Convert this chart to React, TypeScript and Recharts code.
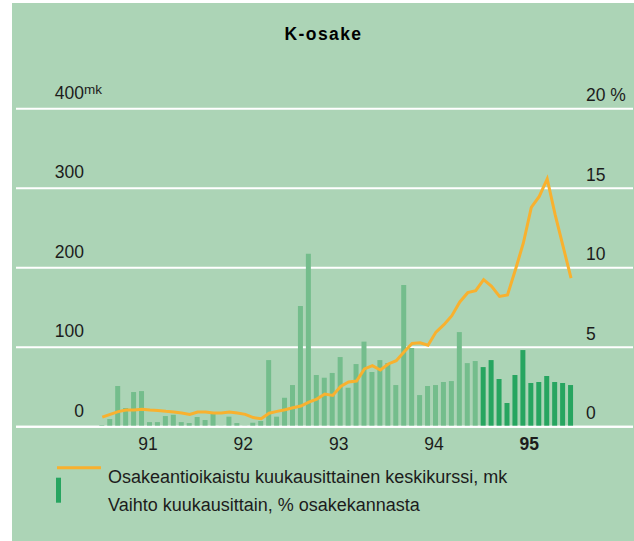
import React from 'react';
import { ComposedChart, Bar, Line, XAxis, YAxis, CartesianGrid, ReferenceLine, Cell } from 'recharts';

// Monthly index (0 = Jan 1991 ... 59 = Dec 1995)
const PRICE_MK: number[] = [
  12, 15.5, 19, 21, 21, 22, 21, 20.5, 19.3, 18.5, 17.2, 15.5,
  18.5, 18.5, 17.2, 17.2, 18.5, 17.2, 15.5, 11.5, 10, 17,
  19.3, 21.4, 23.9, 26, 31, 34.8, 41.1, 39.4, 50.7, 56.2, 57.5, 72.6, 76.7, 71.3,
  78.9, 83, 94.4, 104.8, 105.5, 102.5, 119, 128.3, 139.6, 156.9, 168.6, 171.1,
  184.9, 176.5, 163.9, 165.7, 197.5, 231.1, 275.9, 289.7, 311.6, 266.7, 226.8, 187,
];

const TURNOVER_PCT: number[] = [
  0.1, 0.48, 2.56, 1.17, 2.18, 2.24, 0.29, 0.29, 0.67, 0.75, 0.29, 0.23,
  0.61, 0.42, 0.82, 0.06, 0.63, 0.23, 0.06, 0.25, 0.36, 4.19, 0.63, 1.82,
  2.62, 7.59, 10.88, 3.25, 3.08, 3.38, 4.38, 2.45, 3.94, 5.35, 3.44, 4.19,
  4.0, 2.62, 8.91, 4.95, 1.99, 2.56, 2.62, 2.81, 2.87, 5.95, 4.0, 4.13,
  3.75, 4.19, 3.0, 1.49, 3.25, 4.82, 2.75, 2.81, 3.19, 2.81, 2.75, 2.62,
];

const YEAR_LABELS = ['91', '92', '93', '94', '95'];
const YEAR_TICKS = [5.5, 17.5, 29.5, 41.5, 53.5];
const CURRENT_YEAR_START = 48;
const MK_TICKS = [0, 100, 200, 300, 400];
const PCT_TICKS = [0, 5, 10, 15, 20];

const TITLE = 'K-osake';
const LEGEND_LINE = 'Osakeantioikaistu kuukausittainen keskikurssi, mk';
const LEGEND_BAR = 'Vaihto kuukausittain, % osakekannasta';

const data = PRICE_MK.map((p, i) => ({ i, price: p, turnover: TURNOVER_PCT[i] }));

const BG = '#acd4b6';
const LIGHT = '#74bd8c';
const DARK = '#27a560';
const ORANGE = '#f8b12f';
const TEXT = '#1c1c1c';
const FONT = '"Liberation Sans", Arial, Helvetica, sans-serif';

const W = 634;
const H = 541;

const LeftTick = (props: any) => {
  const { y, payload } = props;
  const v = payload.value;
  return (
    <g>
      <text x={84} y={y - 10} textAnchor="end" fontSize={17.5} fill={TEXT} fontFamily={FONT}>
        {String(v)}
      </text>
      {v === 400 && (
        <text x={84} y={y - 15} textAnchor="start" fontSize={13.5} fill={TEXT} fontFamily={FONT}>
          mk
        </text>
      )}
    </g>
  );
};

const RightTick = (props: any) => {
  const { y, payload } = props;
  const v = payload.value;
  return (
    <text x={586} y={y - 7.5} textAnchor="start" fontSize={17.5} fill={TEXT} fontFamily={FONT}>
      {v === 20 ? '20 %' : String(v)}
    </text>
  );
};

const XTick = (props: any) => {
  const { x, y, payload, index } = props;
  const idx = YEAR_TICKS.indexOf(payload.value);
  const label = YEAR_LABELS[idx >= 0 ? idx : index];
  const bold = idx === YEAR_LABELS.length - 1;
  return (
    <text
      x={x + 2}
      y={y + 23}
      textAnchor="middle"
      fontSize={17.5}
      fontWeight={bold ? 700 : 400}
      fill={TEXT}
      fontFamily={FONT}
    >
      {label}
    </text>
  );
};

export default function App() {
  return (
    <div style={{ position: 'absolute', left: 0, top: 0, width: W, height: H, background: '#ffffff', overflow: 'hidden' }}>
      <div style={{ position: 'absolute', left: 12, top: 3, width: W - 12, height: H - 3, background: BG }} />
      <div style={{ position: 'absolute', left: 0, top: 0 }}>
        <ComposedChart
          width={W}
          height={H}
          data={data}
          margin={{ top: 108.7, right: 0, bottom: 84.3, left: 15 }}
        >
          <CartesianGrid
            yAxisId="mk"
            horizontal={true}
            vertical={false}
            stroke="#ffffff"
            strokeWidth={2}
          />
          <XAxis
            dataKey="i"
            type="number"
            domain={[-10.86, 66.8]}
            allowDataOverflow={true}
            ticks={YEAR_TICKS}
            interval={0}
            axisLine={false}
            tickLine={false}
            tickSize={0}
            tickMargin={0}
            height={30}
            tick={<XTick />}
          />
          <YAxis
            yAxisId="mk"
            domain={[0, 400]}
            ticks={MK_TICKS}
            interval={0}
            width={1}
            axisLine={false}
            tickLine={false}
            tick={<LeftTick />}
          />
          <YAxis
            yAxisId="pct"
            orientation="right"
            domain={[0, 20]}
            ticks={PCT_TICKS}
            interval={0}
            width={1}
            axisLine={false}
            tickLine={false}
            tick={<RightTick />}
          />
          <Bar yAxisId="pct" dataKey="turnover" barSize={5} isAnimationActive={false}>
            {data.map((d) => (
              <Cell key={d.i} fill={d.i >= CURRENT_YEAR_START ? DARK : LIGHT} />
            ))}
          </Bar>
          <ReferenceLine yAxisId="mk" y={0} stroke="#ffffff" strokeWidth={2} />
          <Line
            yAxisId="mk"
            dataKey="price"
            type="linear"
            stroke={ORANGE}
            strokeWidth={3}
            dot={false}
            activeDot={false}
            isAnimationActive={false}
          />
        </ComposedChart>
      </div>
      <svg width={W} height={H} style={{ position: 'absolute', left: 0, top: 0, pointerEvents: 'none' }}>
        <text
          x={323.5}
          y={40}
          textAnchor="middle"
          fontSize={17.5}
          fontWeight={700}
          letterSpacing={1.4}
          fill="#000000"
          fontFamily={FONT}
        >
          {TITLE}
        </text>
        <line x1={57} x2={101} y1={467.7} y2={467.7} stroke={ORANGE} strokeWidth={3} />
        <rect x={56} y={477.7} width={5} height={25} fill={DARK} />
        <text x={108} y={483} fontSize={18} fill={TEXT} fontFamily={FONT}>
          {LEGEND_LINE}
        </text>
        <text x={108} y={510.5} fontSize={18} fill={TEXT} fontFamily={FONT}>
          {LEGEND_BAR}
        </text>
      </svg>
    </div>
  );
}
